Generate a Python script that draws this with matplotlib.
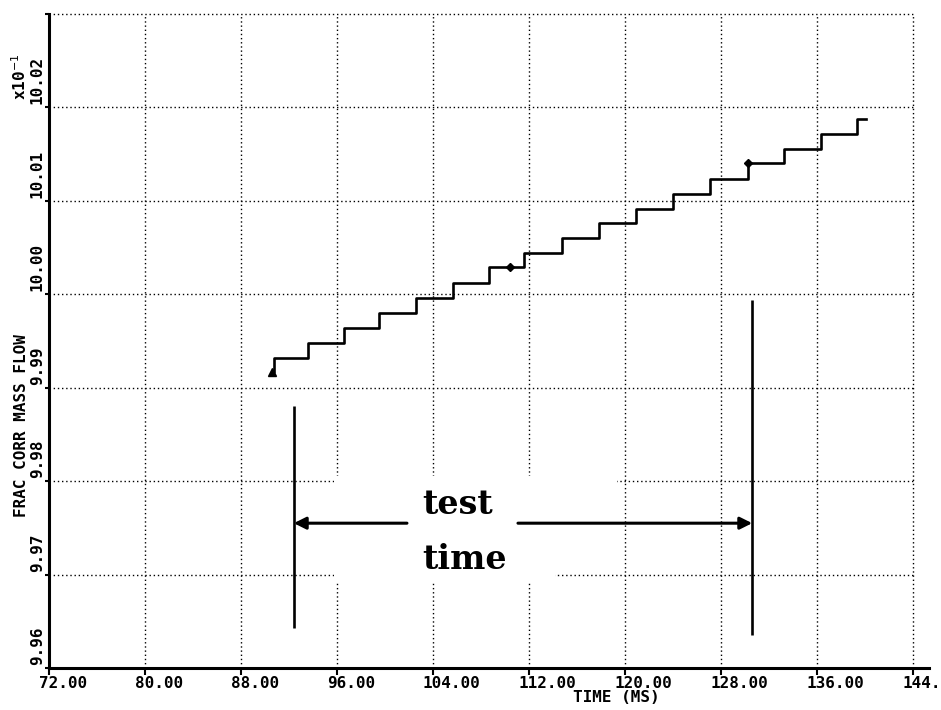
import matplotlib

matplotlib.use("Agg")

import matplotlib.pyplot as plt
import matplotlib.transforms as mtransforms

# data
step_times = [90.56, 90.75, 93.58, 96.58, 99.50, 102.58, 105.67, 108.67, 111.58,
              114.75, 117.83, 120.92, 124.00, 127.08, 130.25, 133.25, 136.33,
              139.33, 140.08]
step_levels = [9.9917, 9.9932, 9.9948, 9.9964, 9.9980, 9.9996, 10.0012, 10.0029,
               10.0044, 10.0060, 10.0076, 10.0091, 10.0107, 10.0123, 10.0140,
               10.0156, 10.0172, 10.0188, 10.0188]
start_marker = (90.56, 9.9917)
diamond_x = [110.42, 130.25]
diamond_y = [10.0029, 10.0140]

test_start, test_end = 92.4, 130.6
bar_bottoms = [9.9643, 9.9635]
bar_tops = [9.9880, 9.9994]
arrow_y = 9.9755
arrow_tails = [101.83, 111.08]

xticks = [72, 80, 88, 96, 104, 112, 120, 128, 136, 144]
xticklabels = ["72.00", "80.00", "88.00", "96.00", "104.00", "112.00",
               "120.00", "128.00", "136.00", "144."]
yticks = [9.96, 9.97, 9.98, 9.99, 10.00, 10.01, 10.02, 10.03]
yticklabels = ["9.96", "9.97", "9.98", "9.99", "10.00", "10.01", "10.02", ""]

mono = {"family": "DejaVu Sans Mono", "weight": "bold", "size": 11.5}
ink = "black"

fig = plt.figure(figsize=(9.41, 7.10), dpi=100)
ax = fig.add_axes([49 / 941, 42 / 710, 864 / 941, 654 / 710])
ax.set_xlim(72, 144)
ax.set_ylim(9.96, 10.03)

# frame: heavy left/bottom, dotted grid closes the top and right
ax.spines[["top", "right"]].set_visible(False)
for side in ("left", "bottom"):
    ax.spines[side].set_linewidth(2.2)
ax.spines["bottom"].set_bounds(72, 145.3)
ax.grid(True, linestyle=(0, (1, 2)), color=ink, linewidth=1.0)
for gl in ax.get_xgridlines() + ax.get_ygridlines():
    gl.set_clip_on(False)

ax.set_xticks(xticks, labels=xticklabels)
ax.set_yticks(yticks, labels=yticklabels)
ax.tick_params(axis="x", direction="out", length=5, width=1.5, pad=1)
ax.tick_params(axis="y", direction="out", length=3, width=1.5, pad=0)
shift = mtransforms.ScaledTranslation(-10 / 100, 0, fig.dpi_scale_trans)
for lab in ax.get_xticklabels():
    lab.set_fontproperties(mono)
    lab.set_ha("left")
    lab.set_transform(lab.get_transform() + shift)
lift = mtransforms.ScaledTranslation(0, 3 / 100, fig.dpi_scale_trans)
for lab in ax.get_yticklabels():
    lab.set_fontproperties(mono)
    lab.set_rotation(90)
    lab.set_ha("right")
    lab.set_va("bottom")
    lab.set_transform(lab.get_transform() + lift)

ax.set_xlabel("TIME (MS)", fontdict=mono)
ax.xaxis.set_label_coords(0.657, -0.033)
ax.set_ylabel("FRAC CORR MASS FLOW", fontdict=mono)
ax.yaxis.set_label_coords(-0.0235, 0.370)
ax.text(-0.0235, 0.8685, "x10$^{-1}$", transform=ax.transAxes, rotation=90,
        ha="right", va="bottom", fontdict=mono)

# the pasted-on "test time" label blanks out part of the grid
patch_x = [95.75, 119.33, 119.33, 114.17, 114.17, 95.75]
patch_y = [9.98053, 9.98053, 9.97468, 9.97468, 9.96926, 9.96926]
ax.fill(patch_x, patch_y, color="white", lw=0, zorder=2)

ax.step(step_times, step_levels, where="post", color=ink, lw=1.9, zorder=3)
ax.plot(*start_marker, "^", color=ink, ms=6, zorder=3)
ax.plot(diamond_x, diamond_y, "D", color=ink, ms=4.5, zorder=3)

ax.vlines([test_start, test_end], bar_bottoms, bar_tops, color=ink, lw=1.9,
          zorder=4)
for tail, head in zip(arrow_tails, [test_start, test_end]):
    ax.annotate("", xy=(head, arrow_y), xytext=(tail, arrow_y),
                arrowprops=dict(arrowstyle="-|>", color=ink, lw=2.2,
                                mutation_scale=18, shrinkA=0, shrinkB=0),
                zorder=4)
ax.text(103.1, 9.97649, "test", fontfamily="DejaVu Serif",
        fontweight="bold", fontsize=24, ha="left", va="baseline", zorder=5)
ax.text(103.1, 9.97064, "time", fontfamily="DejaVu Serif",
        fontweight="bold", fontsize=24, ha="left", va="baseline", zorder=5)

fig.savefig("out.png", dpi=100)
